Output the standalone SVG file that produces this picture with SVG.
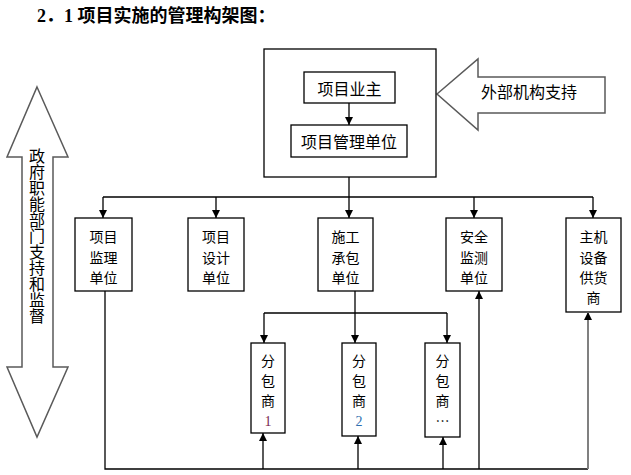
<svg xmlns="http://www.w3.org/2000/svg" width="631" height="475" viewBox="0 0 631 475">
<defs>
<style>
.box{fill:#fff;stroke:#000;stroke-width:1.3}
.big{fill:#fff;stroke:#5a5a5a;stroke-width:1.5}
.ln{fill:none;stroke:#000;stroke-width:1.3}
.gray{fill:none;stroke:#808080;stroke-width:2}
.t{font-family:"Noto Sans CJK SC","Noto Sans CJK TC",sans-serif;font-size:14px;fill:#000;text-anchor:middle;dominant-baseline:central}
.t16{font-size:16px}
.num{font-family:"Liberation Serif","Noto Sans CJK SC",serif}
.title{font-family:"Liberation Serif","Noto Sans CJK SC",serif;font-size:18px;font-weight:bold;fill:#000}
</style>
<marker id="ah" viewBox="0 0 8 8" refX="8" refY="4" markerWidth="8" markerHeight="8" markerUnits="userSpaceOnUse" orient="auto">
<path d="M0,0 L8,4 L0,8 Z" fill="#000"/>
</marker>
</defs>

<text class="title" x="37" y="22">2．1 项目实施的管理构架图：</text>

<g id="gov">
<polygon class="big" points="37,87 68,157 53,157 53,367 68,367 37,437 7,367 22,367 22,157 7,157"/>
<text class="t t16" x="37" y="236" style="writing-mode:vertical-rl">政府职能部门支持和监督</text>
</g>

<g id="ext">
<polygon class="big" points="437,94 478,59 478,77 605,77 605,113 478,113 478,130"/>
<text class="t t16" x="529" y="91">外部机构支持</text>
</g>

<g id="mgmt">
<rect class="box" x="264" y="49" width="172" height="128"/>
</g>
<g id="owner">
<rect class="box" x="304" y="72" width="91" height="31"/>
<text class="t t16" x="349.5" y="88">项目业主</text>
</g>
<g id="pmu">
<rect class="box" x="291" y="125" width="116" height="32"/>
<text class="t t16" x="349" y="141">项目管理单位</text>
</g>

<g id="b1">
<rect class="box" x="75" y="218" width="57" height="73"/>
<text class="t" x="103.5" y="236">项目</text>
<text class="t" x="103.5" y="257">监理</text>
<text class="t" x="103.5" y="277">单位</text>
</g>
<g id="b2">
<rect class="box" x="188" y="218" width="56" height="73"/>
<text class="t" x="216" y="236">项目</text>
<text class="t" x="216" y="257">设计</text>
<text class="t" x="216" y="277">单位</text>
</g>
<g id="b3">
<rect class="box" x="318" y="218" width="55" height="73"/>
<text class="t" x="345.5" y="236">施工</text>
<text class="t" x="345.5" y="257">承包</text>
<text class="t" x="345.5" y="277">单位</text>
</g>
<g id="b4">
<rect class="box" x="446" y="218" width="56" height="73"/>
<text class="t" x="474" y="236">安全</text>
<text class="t" x="474" y="257">监测</text>
<text class="t" x="474" y="277">单位</text>
</g>
<g id="b5">
<rect class="box" x="566" y="218" width="55" height="94"/>
<text class="t" x="593.5" y="236">主机</text>
<text class="t" x="593.5" y="257">设备</text>
<text class="t" x="593.5" y="277">供货</text>
<text class="t" x="593.5" y="297">商</text>
</g>

<g id="s1">
<rect class="box" x="251" y="343" width="34" height="90"/>
<text class="t" x="268" y="360">分</text>
<text class="t" x="268" y="380">包</text>
<text class="t" x="268" y="400">商</text>
<text class="t num" x="268" y="421" fill="#7a1f4f" style="fill:#7a1f4f">1</text>
</g>
<g id="s2">
<rect class="box" x="342" y="343" width="34" height="93"/>
<text class="t" x="359" y="360">分</text>
<text class="t" x="359" y="380">包</text>
<text class="t" x="359" y="400">商</text>
<text class="t num" x="359" y="421" style="fill:#2f6fb0">2</text>
</g>
<g id="s3">
<rect class="box" x="425" y="343" width="35" height="94"/>
<text class="t" x="442.5" y="360">分</text>
<text class="t" x="442.5" y="380">包</text>
<text class="t" x="442.5" y="400">商</text>
<text class="t" x="442.5" y="420">…</text>
</g>

<g id="connectors">
<line class="ln" x1="349" y1="103" x2="349" y2="125" marker-end="url(#ah)"/>
<line class="ln" x1="349" y1="177" x2="349" y2="218" marker-end="url(#ah)"/>
<line class="ln" x1="103" y1="197" x2="593" y2="197"/>
<line class="ln" x1="103" y1="197" x2="103" y2="218" marker-end="url(#ah)"/>
<line class="ln" x1="216" y1="197" x2="216" y2="218" marker-end="url(#ah)"/>
<line class="ln" x1="474" y1="197" x2="474" y2="218" marker-end="url(#ah)"/>
<line class="ln" x1="593" y1="197" x2="593" y2="218" marker-end="url(#ah)"/>

<line class="ln" x1="355" y1="291" x2="355" y2="343" marker-end="url(#ah)"/>
<line class="ln" x1="264" y1="313" x2="447" y2="313"/>
<line class="ln" x1="264" y1="313" x2="264" y2="343" marker-end="url(#ah)"/>
<line class="ln" x1="447" y1="313" x2="447" y2="343" marker-end="url(#ah)"/>

<polyline class="ln" points="105,291 105,469 588,469"/>
<line class="ln" x1="263" y1="469" x2="263" y2="433" marker-end="url(#ah)"/>
<line class="ln" x1="358" y1="469" x2="358" y2="436" marker-end="url(#ah)"/>
<line class="ln" x1="443" y1="469" x2="443" y2="437" marker-end="url(#ah)"/>
<line class="ln" x1="479" y1="469" x2="479" y2="291" marker-end="url(#ah)"/>
<line class="gray" x1="588" y1="469" x2="588" y2="312" marker-end="url(#ah)"/>
</g>
</svg>
